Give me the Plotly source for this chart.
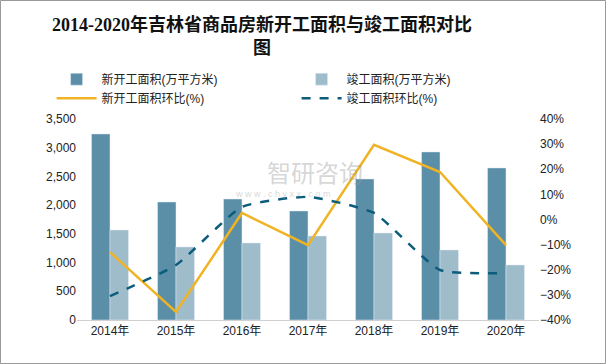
import plotly.graph_objects as go

years = ["2014年", "2015年", "2016年", "2017年", "2018年", "2019年", "2020年"]
new_area = [3240, 2055, 2107, 1899, 2456, 2927, 2648]
done_area = [1567, 1272, 1341, 1463, 1516, 1220, 958]
new_growth = [-13.0, -36.8, 2.6, -10.2, 29.7, 18.9, -10.2]
done_growth = [-30.5, -18.1, 5.0, 9.0, 2.6, -20.1, -21.3]

FONT = "Liberation Sans, Noto Sans CJK SC, sans-serif"

fig = go.Figure()
fig.add_trace(go.Bar(x=years, y=new_area, name="新开工面积(万平方米)", marker_color="#5b8fa8"))
fig.add_trace(go.Bar(x=years, y=done_area, name="竣工面积(万平方米)", marker_color="#9fbccb"))
fig.add_trace(go.Scatter(x=years, y=new_growth, name="新开工面积环比(%)", yaxis="y2",
                         mode="lines", line=dict(color="#f0b323", width=2.5)))
fig.add_trace(go.Scatter(x=years, y=done_growth, name="竣工面积环比(%)", yaxis="y2",
                         mode="lines", line=dict(color="#0c5d7c", width=2.5, dash="dash",
                                                 shape="spline", smoothing=0.5)))

fig.update_layout(
    width=606, height=364,
    margin=dict(l=77, r=67, t=119, b=44, autoexpand=False),
    paper_bgcolor="white", plot_bgcolor="white",
    font=dict(family=FONT, size=12, color="#222"),
    barmode="group", bargap=0.44, bargroupgap=0,
    showlegend=True,
    legend=dict(orientation="h", x=-0.055, xanchor="left", y=1.27, yanchor="top",
                entrywidth=190, entrywidthmode="pixels", font=dict(size=12),
                tracegroupgap=0, itemwidth=40, bgcolor="rgba(0,0,0,0)"),
    xaxis=dict(showline=True, linecolor="#d0d0d0", linewidth=1, ticks="", showgrid=False,
               tickfont=dict(size=12)),
    yaxis=dict(range=[0, 3500], dtick=500, tickformat=",", showgrid=False, zeroline=False,
               showline=False, ticks="", tickfont=dict(size=12)),
    yaxis2=dict(range=[-40, 40], dtick=10, ticksuffix="%", overlaying="y", side="right",
                showgrid=False, zeroline=False, showline=False, ticks="", tickfont=dict(size=12)),
    shapes=[dict(type="rect", xref="paper", yref="paper",
                 x0=-76.5/462, x1=1 + 66.5/462, y0=-43.5/201, y1=1 + 118.5/201,
                 line=dict(color="#999", width=1), fillcolor="rgba(0,0,0,0)", layer="below")],
    annotations=[
        dict(text="<b>2014-2020年吉林省商品房新开工面积与竣工面积对比<br>图</b>",
             x=(262 - 77) / 462, y=1 + (119 - 36) / 201, xref="paper", yref="paper",
             showarrow=False, xanchor="center", yanchor="middle", align="center",
             font=dict(family="Liberation Serif, Noto Sans CJK SC, serif", size=18, color="#111")),
        dict(text="智研咨询", x=(265 - 77) / 462, y=(320 - 173) / 201, xref="paper", yref="paper",
             showarrow=False, xanchor="left", yanchor="middle",
             font=dict(size=24, color="rgba(150,150,150,0.4)")),
        dict(text="w w w . c h y x x . c o m", x=(233 - 77) / 462, y=(320 - 194) / 201,
             xref="paper", yref="paper", showarrow=False, xanchor="left", yanchor="middle",
             font=dict(size=9, color="rgba(150,150,150,0.4)")),
    ],
)

fig.write_html("out.html", post_script="document.body.style.margin='0';",
               config={"displayModeBar": False})
